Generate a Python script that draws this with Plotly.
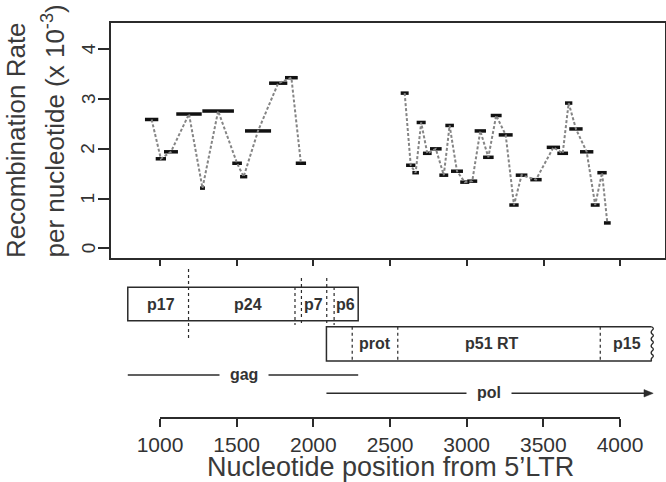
import plotly.graph_objects as go

# ---------------- data ----------------
# recombination rate intervals (nucleotide start/end, rate x10^-3)
gag_start = [902, 972, 1026, 1106, 1261, 1276, 1471, 1522, 1554, 1711, 1815, 1885]
gag_end = [989, 1039, 1117, 1272, 1293, 1482, 1534, 1569, 1724, 1830, 1898, 1952]
gag_rate = [2.59, 1.80, 1.94, 2.70, 1.21, 2.76, 1.71, 1.44, 2.36, 3.32, 3.43, 1.71]

pol_start = [2569, 2604, 2645, 2673, 2714, 2760, 2821, 2860, 2897, 2957, 3003, 3051, 3106,
             3156, 3208, 3277, 3319, 3414, 3521, 3590, 3640, 3668, 3738, 3808, 3851, 3894]
pol_end = [2621, 2665, 2688, 2732, 2771, 2836, 2879, 2916, 2975, 3016, 3068, 3125, 3175,
           3227, 3299, 3338, 3395, 3488, 3608, 3660, 3688, 3755, 3825, 3866, 3912, 3938]
pol_rate = [3.12, 1.67, 1.52, 2.53, 1.91, 2.00, 1.47, 2.47, 1.55, 1.33, 1.35, 2.36, 1.83,
            2.67, 2.28, 0.87, 1.47, 1.38, 2.03, 1.91, 2.92, 2.40, 1.94, 0.87, 1.52, 0.51]

# genome map
gag_gene = (790, 2292)
pol_gene = (2085, 4205)          # shown (truncated) extent
gag_labels = ["p17", "p24", "p7", "p6"]
gag_label_pos = [1004, 1572, 2000, 2210]
gag_bounds = [1186, 1880, 1922, 2087, 2135]
pol_labels = ["prot", "p51 RT", "p15"]
pol_label_pos = [2402, 3166, 4046]
pol_bounds = [2253, 2550, 3870]

y_ticks = [0, 1, 2, 3, 4]
x_ticks = [1000, 1500, 2000, 2500, 3000, 3500, 4000]

# ---------------- figure ----------------
W, H = 666, 482
def py(p):  # pixel row -> paper
    return 1 - p / H

FONT = "Liberation Sans, Arial, sans-serif"
TXT = "#333333"
LINE = "#2b2b2b"

fig = go.Figure()

for starts, ends, rates in [(gag_start, gag_end, gag_rate), (pol_start, pol_end, pol_rate)]:
    xs, ys = [], []
    for s, e, r in zip(starts, ends, rates):
        xs += [s, e, None]
        ys += [r, r, None]
    fig.add_trace(go.Scatter(x=xs, y=ys, mode="lines", line=dict(color="#111111", width=3.5),
                             showlegend=False, hoverinfo="skip"))
    mids = [(s + e) / 2 for s, e in zip(starts, ends)]
    fig.add_trace(go.Scatter(x=mids, y=rates, mode="lines",
                             line=dict(color="#858585", width=2, dash="3px,2px"),
                             showlegend=False, hoverinfo="skip"))

# dummy traces to create map subplot and bottom-axis subplot
fig.add_trace(go.Scatter(x=[None], y=[None], xaxis="x", yaxis="y2", showlegend=False, hoverinfo="skip"))
fig.add_trace(go.Scatter(x=[None], y=[None], xaxis="x2", yaxis="y3", showlegend=False, hoverinfo="skip"))

shapes = []
ann = []
lw = 1.5
# gag box
G_T, G_B = 287.3, 320.7
shapes.append(dict(type="rect", xref="x", yref="y2", x0=gag_gene[0], x1=gag_gene[1], y0=G_T, y1=G_B,
                   line=dict(color=LINE, width=lw)))
gag_extent = [(269, 340), (287, 325), (278, 323), (278, 323), (287, 325)]
for b, (a0, a1) in zip(gag_bounds, gag_extent):
    shapes.append(dict(type="line", xref="x", yref="y2", x0=b, x1=b, y0=a0, y1=a1,
                       line=dict(color=LINE, width=1.2, dash="dot")))
for lab, p in zip(gag_labels, gag_label_pos):
    ann.append(dict(xref="x", yref="y2", x=p, y=304, text=f"<b>{lab}</b>", showarrow=False,
                    font=dict(family=FONT, size=16, color=TXT)))

# pol box with wavy right edge
P_T, P_B = 326.7, 361.0
x0, x1 = pol_gene
path = f"M {x1},{P_T} L {x0},{P_T} L {x0},{P_B} L {x1},{P_B}"
shapes.append(dict(type="path", xref="x", yref="y2", path=path, line=dict(color=LINE, width=lw)))
n = 5
h = (P_B - P_T) / n
d = 20
wav = f"M {x1},{P_T}"
for i in range(n):
    ya = P_T + i * h
    wav += f" Q {x1 + d},{ya + h * 0.25} {x1 + d * 0.2},{ya + h * 0.5} Q {x1 - d * 0.4},{ya + h * 0.75} {x1},{ya + h}"
shapes.append(dict(type="path", xref="x", yref="y2", path=wav, line=dict(color=LINE, width=1.3)))
for b in pol_bounds:
    shapes.append(dict(type="line", xref="x", yref="y2", x0=b, x1=b, y0=P_T, y1=P_B,
                       line=dict(color=LINE, width=1.2, dash="dot")))
for lab, p in zip(pol_labels, pol_label_pos):
    ann.append(dict(xref="x", yref="y2", x=p, y=343.5, text=f"<b>{lab}</b>", showarrow=False,
                    font=dict(family=FONT, size=16, color=TXT)))

# gag line
shapes.append(dict(type="line", xref="x", yref="y2", x0=gag_gene[0], x1=gag_gene[1], y0=375, y1=375,
                   line=dict(color=LINE, width=lw)))
ann.append(dict(xref="x", yref="y2", x=(gag_gene[0] + gag_gene[1]) / 2 + 7, y=374.5, text="<b>gag</b>",
                showarrow=False, bgcolor="white", borderpad=1,
                font=dict(family=FONT, size=16, color=TXT), xanchor="center"))
# pol arrow
arrow_end = pol_gene[1] + 10
shapes.append(dict(type="line", xref="x", yref="y2", x0=pol_gene[0], x1=arrow_end - 40, y0=393.3, y1=393.3,
                   line=dict(color=LINE, width=lw)))
shapes.append(dict(type="path", xref="x", yref="y2",
                   path=f"M {arrow_end},393.3 L {arrow_end - 60},389.6 L {arrow_end - 60},397.0 Z",
                   fillcolor=LINE, line=dict(color=LINE, width=0.5)))
ann.append(dict(xref="x", yref="y2", x=3145, y=392.5, text="<b>pol</b>", showarrow=False,
                bgcolor="white", borderpad=1, font=dict(family=FONT, size=16, color=TXT)))

# pad the white boxes horizontally with nbsp
for a in ann:
    if a.get("bgcolor") == "white":
        a["text"] = "\u00a0\u00a0" + a["text"] + "\u00a0\u00a0"

# y tick labels (rotated, R style)
for v in y_ticks:
    ann.append(dict(xref="paper", yref="y", x=88 / W, y=v, text=str(v), textangle=-90,
                    showarrow=False, xanchor="center", yanchor="middle", borderpad=0,
                    font=dict(family=FONT, size=19, color=TXT)))

# axis titles
TITLE_C = "#3a3a3a"
ann.append(dict(xref="paper", yref="paper", x=16 / W, y=py(259), xanchor="center", yanchor="bottom",
                textangle=-90, showarrow=False, borderpad=0,
                text="Recombination Rate",
                font=dict(family=FONT, size=26, color=TITLE_C)))
ann.append(dict(xref="paper", yref="paper", x=54 / W, y=py(259), xanchor="center", yanchor="bottom",
                textangle=-90, showarrow=False, borderpad=0,
                text="per nucleotide (x 10<sup>-3</sup>)",
                font=dict(family=FONT, size=26, color=TITLE_C)))
ann.append(dict(xref="x2", yref="paper", x=2500, y=py(467), xanchor="center", yanchor="middle",
                showarrow=False, text="Nucleotide position from 5\u2019LTR",
                font=dict(family=FONT, size=27, color=TITLE_C)))

fig.update_layout(
    width=W, height=H, margin=dict(l=0, r=0, t=0, b=0, autoexpand=False),
    paper_bgcolor="white", plot_bgcolor="white", showlegend=False,
    font=dict(family=FONT, color=TXT),
    shapes=shapes, annotations=ann,
    xaxis=dict(domain=[111 / W, 665 / W], range=[680.6, 4292], anchor="y", automargin=False,
               tickvals=x_ticks, showticklabels=False, ticks="outside", ticklen=6, tickwidth=2,
               tickcolor=LINE, showline=True, linecolor=LINE, linewidth=2, mirror=True,
               showgrid=False, zeroline=False),
    yaxis=dict(domain=[py(258), py(23)], range=[-0.195, 4.53], anchor="x", automargin=False,
               tickvals=y_ticks, showticklabels=False,
               ticks="outside", ticklen=11, tickwidth=2, tickcolor=LINE,
               showline=True, linecolor=LINE, linewidth=2, mirror=True,
               showgrid=False, zeroline=False),
    yaxis2=dict(domain=[py(400), py(265)], range=[400, 265], anchor="x", visible=False,
                automargin=False, showgrid=False, zeroline=False),
    xaxis2=dict(domain=[160 / W, 620 / W], range=[1000, 4000], anchor="y3", automargin=False,
                tickvals=x_ticks, ticks="outside", ticklen=8, tickwidth=2, tickcolor=LINE,
                tickfont=dict(family=FONT, size=21, color=TXT),
                showline=True, linecolor=LINE, linewidth=2, showgrid=False, zeroline=False),
    yaxis3=dict(domain=[py(416.7), py(410)], range=[0, 1], anchor="x2", visible=False,
                automargin=False, showgrid=False, zeroline=False),
)

fig.write_html("out.html", config={"displayModeBar": False},
               post_script="document.body.style.margin='0';document.body.style.padding='0';")
